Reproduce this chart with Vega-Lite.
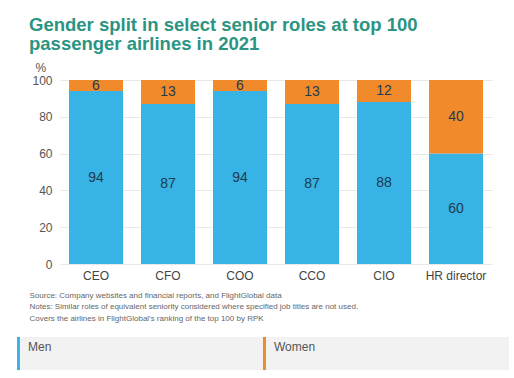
{
  "$schema": "https://vega.github.io/schema/vega-lite/v6.json",
  "width": 432,
  "height": 184,
  "autosize": {"type": "none"},
  "padding": {"left": 60, "top": 80, "right": 22, "bottom": 114},
  "background": "white",
  "config": {
    "font": "Liberation Sans",
    "view": {"stroke": null}
  },
  "title": {
    "text": ["Gender split in select senior roles at top 100", "passenger airlines in 2021"],
    "anchor": "start",
    "frame": "group",
    "dx": -31,
    "fontSize": 18.5,
    "fontWeight": "bold",
    "color": "#2b9483",
    "lineHeight": 19,
    "offset": 8
  },
  "data": {
    "values": [
      {"role": "CEO", "gender": "Men", "value": 94},
      {"role": "CEO", "gender": "Women", "value": 6},
      {"role": "CFO", "gender": "Men", "value": 87},
      {"role": "CFO", "gender": "Women", "value": 13},
      {"role": "COO", "gender": "Men", "value": 94},
      {"role": "COO", "gender": "Women", "value": 6},
      {"role": "CCO", "gender": "Men", "value": 87},
      {"role": "CCO", "gender": "Women", "value": 13},
      {"role": "CIO", "gender": "Men", "value": 88},
      {"role": "CIO", "gender": "Women", "value": 12},
      {"role": "HR director", "gender": "Men", "value": 60},
      {"role": "HR director", "gender": "Women", "value": 40}
    ]
  },
  "encoding": {
    "x": {
      "field": "role",
      "type": "nominal",
      "sort": null,
      "scale": {"paddingInner": 0.25, "paddingOuter": 0.125},
      "axis": {
        "labelAngle": 0,
        "labelFontSize": 12,
        "labelColor": "#444",
        "labelPadding": 6,
        "ticks": false,
        "domain": false,
        "title": ["Source: Company websites and financial reports, and FlightGlobal data", "Notes: Similar roles of equivalent seniority considered where specified job titles are not used.", "Covers the airlines in FlightGlobal's ranking of the top 100 by RPK"],
        "titleAnchor": "start",
        "titleAlign": "left",
        "titleBaseline": "top",
        "titleX": -31,
        "titleY": 27,
        "titleFontSize": 8,
        "titleFontWeight": "normal",
        "titleColor": "#666",
        "titleLineHeight": 11.5
      }
    },
    "y": {
      "field": "value",
      "type": "quantitative",
      "stack": "zero",
      "scale": {"domain": [0, 100]},
      "axis": {
        "values": [0, 20, 40, 60, 80, 100],
        "labelFontSize": 12,
        "labelColor": "#555",
        "labelPadding": 8,
        "ticks": false,
        "domain": false,
        "gridColor": "#e8e8e8",
        "title": "%",
        "titleAngle": 0,
        "titleAlign": "left",
        "titleBaseline": "middle",
        "titleX": -25,
        "titleY": -13,
        "titleFontSize": 12,
        "titleFontWeight": "normal",
        "titleColor": "#555"
      }
    },
    "order": {"field": "gender", "sort": "ascending"}
  },
  "layer": [
    {
      "mark": {"type": "bar"},
      "encoding": {
        "color": {
          "field": "gender",
          "type": "nominal",
          "scale": {"domain": ["Men", "Women"], "range": ["#37b3e5", "#f08a2a"]},
          "legend": {
            "orient": "none",
            "legendX": -43,
            "legendY": 257,
            "direction": "horizontal",
            "columns": 2,
            "columnPadding": 0,
            "padding": 0,
            "fillColor": "#f2f2f2",
            "title": null,
            "symbolType": "M-1,-1H-0.82V1H-1Z M13.9,1",
            "symbolSize": 1089,
            "symbolStrokeWidth": 0,
            "symbolOpacity": 1,
            "labelOffset": -22,
            "labelFontSize": 12,
            "labelColor": "#555",
            "labelBaseline": "bottom"
          }
        }
      }
    },
    {
      "mark": {"type": "text", "fontSize": 14, "color": "#1f3b50"},
      "encoding": {
        "y": {"field": "value", "type": "quantitative", "stack": "zero", "bandPosition": 0.5},
        "text": {"field": "value", "type": "quantitative"}
      }
    }
  ]
}
